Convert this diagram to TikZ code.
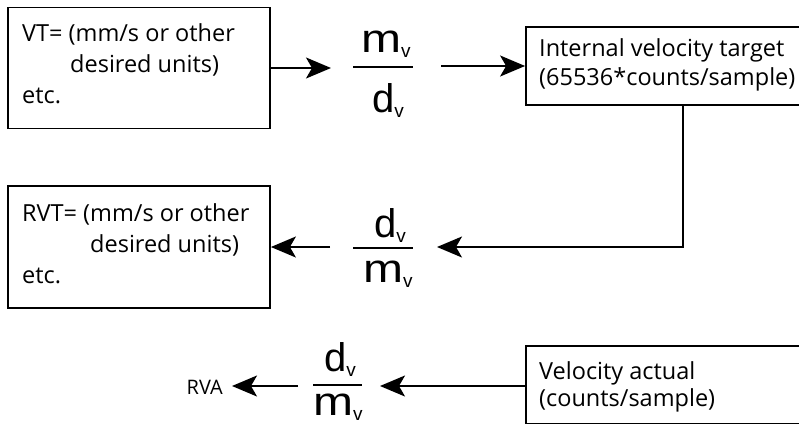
\documentclass[tikz,border=0pt]{standalone}
\usepackage{graphicx}
\usepackage{fontspec}
\setmainfont{Open Sans}
\newfontfamily\fracfont{Liberation Sans}
\usetikzlibrary{arrows.meta}
\newcommand{\fracbig}[1]{{\fracfont\fontsize{40}{40}\selectfont #1}\raisebox{-5pt}{\fracfont\fontsize{19}{19}\selectfont v}}
\newcommand{\fracm}{\fracbig{\scalebox{1.2}[1]{m}}}
\newcommand{\fracd}{\fracbig{d}}
\begin{document}
\begin{tikzpicture}[x=1pt,y=-1pt,
  box/.style={draw,line width=1.8pt,rectangle,inner sep=0pt},
  lbl/.style={anchor=base west,inner sep=0pt,font=\fontsize{23.5}{23.5}\selectfont},
  frc/.style={anchor=base,inner sep=0pt},
  conn/.style={line width=1.8pt},
  arr/.style={conn,-{Stealth[length=25pt,width=21pt,inset=6pt]}}]
\useasboundingbox (0,0) rectangle (799,423);
\clip (0,0) rectangle (799,423);
% boxes
\node[box,minimum width=262pt,minimum height=121pt] (box1) at (139,68) {};
\node[box,minimum width=304pt,minimum height=78pt] (box2) at (678,66) {};
\node[box,minimum width=262pt,minimum height=122pt] (box3) at (139,247) {};
\node[box,minimum width=304pt,minimum height=78pt] (box4) at (678,385) {};
% box texts
\node[lbl] (t11) at (22,41) {VT= (mm/s or other};
\node[lbl] (t12) at (70,72) {desired units)};
\node[lbl] (t13) at (22,103) {etc.};
\node[lbl] (t21) at (539,56) {Internal velocity target};
\node[lbl] (t22) at (539,85) {(65536*counts/sample)};
\node[lbl] (t31) at (22,221) {RVT= (mm/s or other};
\node[lbl] (t32) at (90,252) {desired units)};
\node[lbl] (t33) at (22,283) {etc.};
\node[lbl] (t41) at (539,379) {Velocity actual};
\node[lbl] (t42) at (539,406) {(counts/sample)};
\node[lbl,anchor=base east,font=\fontsize{20}{20}\selectfont] (rva) at (223,394) {RVA};
% fractions
\node[frc] (f1n) at (386,52) {\fracm};
\node[frc] (f1d) at (388,112) {\fracd};
\coordinate (f1l) at (353,67); \coordinate (f1r) at (413,67);
\draw[conn] (f1l) -- (f1r);
\node[frc] (f2n) at (390,237) {\fracd};
\node[frc] (f2d) at (388,282) {\fracm};
\coordinate (f2l) at (353,248); \coordinate (f2r) at (413,248);
\draw[conn] (f2l) -- (f2r);
\node[frc] (f3n) at (340,371) {\fracd};
\node[frc] (f3d) at (338,415) {\fracm};
\coordinate (f3l) at (313,385); \coordinate (f3r) at (362,385);
\draw[conn] (f3l) -- (f3r);
% connectors
\coordinate (a1) at (331,68);
\draw[arr] (a1 -| box1.east) -- (a1);
\coordinate (a2) at (441,66);
\draw[arr] (a2) -- (a2 -| box2.west);
\coordinate (c3) at (683,247);
\coordinate (t3) at (437,247);
\draw[arr] (c3 |- box2.south) -- (c3) -- (t3);
\coordinate (a4) at (330,247);
\draw[arr] (a4) -- (a4 -| box3.east);
\coordinate (t5) at (380,386);
\draw[arr] (t5 -| box4.west) -- (t5);
\coordinate (a6) at (298,386);
\coordinate (t6) at (232,386);
\draw[arr] (a6) -- (t6);
\end{tikzpicture}
\end{document}
